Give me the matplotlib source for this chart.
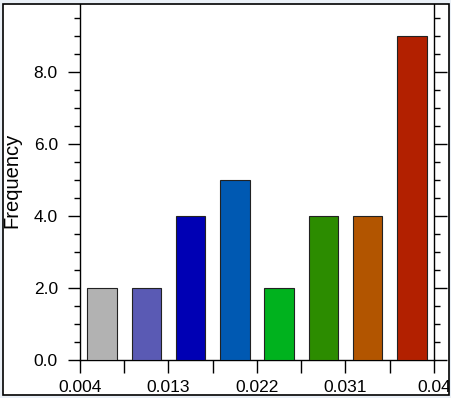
import matplotlib
matplotlib.use('Agg')
import matplotlib.pyplot as plt
import matplotlib.ticker as mticker
from matplotlib.patches import Rectangle
import numpy as np

plt.rcParams['font.family'] = ['Liberation Sans', 'DejaVu Sans']

# histogram data
bin_start = 0.004
bin_width = 0.0045
counts = [2, 2, 4, 5, 2, 4, 4, 9]
colors = ['#B2B2B2', '#5A5AB4', '#0000B4', '#0059B2',
          '#00B21E', '#2C8C00', '#B25500', '#B22000']
xtick_vals = [0.004, 0.013, 0.022, 0.031, 0.04]
xtick_labels = ['0.004', '0.013', '0.022', '0.031', '0.04']
ytick_vals = [0, 2, 4, 6, 8]
ytick_labels = ['0.0', '2.0', '4.0', '6.0', '8.0']

W, H = 452, 398
fig = plt.figure(figsize=(W / 100, H / 100), dpi=100)
fig.patch.set_facecolor('white')

ax = fig.add_axes([80 / W, 38 / H, 354 / W, 360 / H])
centers = bin_start + bin_width * (np.arange(len(counts)) + 0.5)
ax.bar(centers, counts, width=bin_width * 0.67, color=colors,
       edgecolor='#222222', linewidth=0.8, zorder=3)

ax.set_xlim(0.004, 0.04)
ax.set_ylim(0, 10)
ax.spines['top'].set_visible(False)
for s in ['left', 'right', 'bottom']:
    ax.spines[s].set_linewidth(1.0)

ax.set_xticks(xtick_vals)
ax.set_xticklabels(xtick_labels)
ax.xaxis.set_minor_locator(mticker.FixedLocator([0.0085, 0.0175, 0.0265, 0.0355]))
ax.set_yticks(ytick_vals)
ax.set_yticklabels(ytick_labels)
ax.yaxis.set_minor_locator(mticker.MultipleLocator(0.5))

ax.tick_params(axis='x', which='major', direction='out', length=9, width=1,
               labelsize=12.5, pad=5.5)
ax.tick_params(axis='x', which='minor', direction='out', length=9, width=1)
ax.tick_params(axis='y', which='major', direction='out', length=9, width=1,
               labelsize=12.5, pad=7, right=True)
ax.tick_params(axis='y', which='minor', direction='out', length=4, width=1,
               right=True)

ax.set_ylabel('Frequency', fontsize=14.5)
ax.yaxis.set_label_coords(-0.167, 0.5)

# screenshot frame
bg = '#EAF0F7'
for r in [(0, 0, 3 / W, 1), (449 / W, 0, 3 / W, 1),
          (0, 0, 1, 3 / H), (0, 394 / H, 1, 4 / H)]:
    fig.add_artist(Rectangle(r[:2], r[2], r[3], transform=fig.transFigure,
                             facecolor=bg, edgecolor='none', zorder=10))
fig.add_artist(Rectangle((3 / W, 3 / H), 446 / W, 391 / H,
                         transform=fig.transFigure, facecolor='none',
                         edgecolor='black', linewidth=1.2, zorder=11))

fig.savefig('out.png', dpi=100)
